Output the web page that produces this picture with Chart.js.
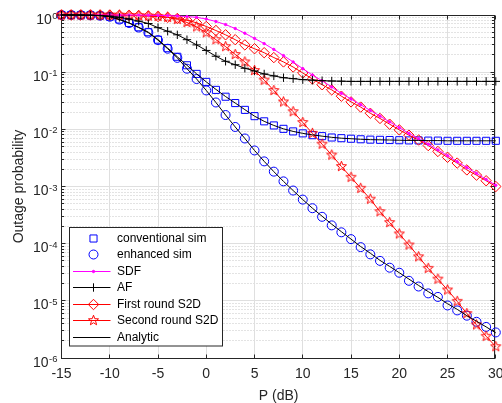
<!DOCTYPE html>
<html><head><meta charset="utf-8">
<script src="https://cdn.jsdelivr.net/npm/chart.js@4.4.1/dist/chart.umd.min.js"></script>
<style>html,body{margin:0;padding:0;background:#fff;}#wrap{width:502px;height:403px;}</style>
</head><body><div id="wrap"><canvas id="c" width="502" height="403"></canvas></div>
<script>
// ---------------- data ----------------
const P_dB = [-15,-14,-13,-12,-11,-10,-9,-8,-7,-6,-5,-4,-3,-2,-1,0,1,2,3,4,5,6,7,8,9,10,11,12,13,14,15,16,17,18,19,20,21,22,23,24,25,26,27,28,29,30];
const xTickVals = [-15,-10,-5,0,5,10,15,20,25,30];
const yTickExp = [-6,-5,-4,-3,-2,-1,0];

const conventionalSim = [1.0,1.0,0.995,0.99,0.975,0.935,0.835,0.727,0.61,0.50,0.37,0.263,0.186,0.132,0.0933,0.0676,
  0.049,0.0372,0.0288,0.0219,0.0170,0.0138,0.0117,0.0102,9.2e-3,8.5e-3,
  7.9e-3,7.6e-3,7.2e-3,7.0e-3,6.85e-3,6.7e-3,6.6e-3,6.55e-3,6.5e-3,6.45e-3,
  6.4e-3,6.4e-3,6.35e-3,6.35e-3,6.3e-3,6.3e-3,6.3e-3,6.3e-3,6.3e-3,6.3e-3];
const conventionalAnalytic = [1.0,1.0,0.996,0.99,0.975,0.935,0.836,0.727,0.61,0.50,0.372,0.264,0.186,0.132,0.0933,0.0676,
  0.050,0.0375,0.0288,0.0221,0.0170,0.0138,0.0117,0.0102,9.2e-3,8.5e-3,
  8.0e-3,7.6e-3,7.25e-3,7.0e-3,6.85e-3,6.7e-3,6.6e-3,6.55e-3,6.5e-3,6.45e-3,
  6.4e-3,6.4e-3,6.35e-3,6.35e-3,6.3e-3,6.3e-3,6.3e-3,6.3e-3,6.3e-3,6.3e-3];
const enhancedSim = [1.0,1.0,0.995,0.99,0.973,0.933,0.832,0.724,0.603,0.490,0.363,0.257,0.178,0.115,0.0759,0.0479,
  0.0295,0.0178,0.0110,6.92e-3,4.27e-3,2.75e-3,1.82e-3,1.23e-3,8.5e-4,5.9e-4,
  4.17e-4,2.95e-4,2.09e-4,1.58e-4,1.20e-4,8.7e-5,6.5e-5,5.0e-5,3.8e-5,3.1e-5,
  2.24e-5,1.78e-5,1.35e-5,1.17e-5,8.3e-6,6.8e-6,5.5e-6,4.3e-6,3.5e-6,2.8e-6];
const enhancedAnalytic = [1.0,1.0,0.996,0.99,0.974,0.933,0.832,0.724,0.603,0.490,0.363,0.257,0.178,0.115,0.0759,0.0479,
  0.0295,0.0178,0.0110,6.92e-3,4.27e-3,2.75e-3,1.82e-3,1.23e-3,8.5e-4,5.9e-4,
  4.17e-4,3.02e-4,2.19e-4,1.62e-4,1.20e-4,8.9e-5,6.8e-5,5.1e-5,4.0e-5,3.1e-5,
  2.4e-5,1.86e-5,1.45e-5,1.15e-5,8.9e-6,7.1e-6,5.5e-6,4.4e-6,3.5e-6,2.75e-6];
const sdf = [1.0,1.0,1.0,1.0,1.0,0.999,0.998,0.997,0.995,0.99,0.985,0.977,0.96,0.94,0.91,0.85,
  0.77,0.68,0.58,0.48,0.39,0.316,0.25,0.195,0.151,0.115,
  0.089,0.0708,0.055,0.0427,0.0339,0.0269,0.0214,0.0170,0.0135,0.0107,
  8.5e-3,6.84e-3,5.5e-3,4.37e-3,3.47e-3,2.72e-3,2.14e-3,1.70e-3,1.33e-3,1.05e-3];
const af = [1.0,1.0,0.998,0.99,0.98,0.955,0.91,0.85,0.78,0.71,0.60,0.52,0.45,0.37,0.30,0.24,
  0.19,0.155,0.135,0.117,0.105,0.093,0.086,0.080,0.077,0.074,
  0.0725,0.071,0.070,0.0695,0.069,0.069,0.069,0.069,0.069,0.069,
  0.069,0.069,0.069,0.069,0.069,0.069,0.069,0.069,0.069,0.069];
const firstRound = [1.0,1.0,1.0,1.0,0.998,0.996,0.99,0.985,0.975,0.96,0.94,0.91,0.87,0.81,0.73,0.63,
  0.535,0.45,0.37,0.30,0.257,0.219,0.18,0.151,0.123,0.097,
  0.0759,0.0603,0.049,0.038,0.0302,0.0245,0.0191,0.0155,0.0123,9.8e-3,
  7.9e-3,6.5e-3,5.2e-3,4.1e-3,3.24e-3,2.57e-3,1.95e-3,1.58e-3,1.26e-3,1.0e-3];
const secondRound = [1.0,1.0,1.0,1.0,0.999,0.997,0.993,0.985,0.975,0.96,0.945,0.91,0.84,0.74,0.62,0.49,
  0.37,0.28,0.204,0.151,0.107,0.0724,0.0479,0.0302,0.0204,0.0132,
  8.5e-3,5.5e-3,3.55e-3,2.24e-3,1.45e-3,9.3e-4,6.0e-4,3.63e-4,2.34e-4,1.48e-4,
  9.5e-5,5.9e-5,3.7e-5,2.4e-5,1.55e-5,9.8e-6,6.0e-6,3.8e-6,2.4e-6,1.58e-6];

// ---------------- styling helpers ----------------
const FONT = '"Liberation Sans", Arial, Helvetica, sans-serif';
const AXC = '#262626';
const BLUE = '#0000ff', RED = '#ff0000', MAG = '#ff00ff', BLACK = '#000000';

function makeStar(color, R) {
  const s = Math.ceil(R * 2 + 4);
  const c = document.createElement('canvas'); c.width = s; c.height = s;
  const g = c.getContext('2d'); g.strokeStyle = color; g.lineWidth = 1;
  g.beginPath();
  for (let k = 0; k < 10; k++) {
    const ang = -Math.PI / 2 + k * Math.PI / 5;
    const r = (k % 2) ? R * 0.42 : R;
    const px = s / 2 + r * Math.cos(ang), py = s / 2 + r * Math.sin(ang);
    if (k) g.lineTo(px, py); else g.moveTo(px, py);
  }
  g.closePath(); g.stroke();
  return c;
}
const starImg = makeStar(RED, 5.3);

const pts = arr => P_dB.map((x, i) => ({x: x, y: arr[i]}));

function ds(label, arr, o) {
  return Object.assign({
    label: label, data: pts(arr), clip: false, tension: 0,
    borderWidth: 1, pointBorderWidth: 1, pointBackgroundColor: 'rgba(0,0,0,0)',
    pointHoverRadius: 0
  }, o);
}

const datasets = [
  ds('conventional sim', conventionalSim, {showLine: false, borderColor: BLUE, pointBorderColor: BLUE, pointStyle: 'rect', pointRadius: 5, order: 6, legendLine: false}),
  ds('enhanced sim', enhancedSim, {showLine: false, borderColor: BLUE, pointBorderColor: BLUE, pointStyle: 'circle', pointRadius: 4.5, order: 5, legendLine: false}),
  ds('SDF', sdf, {borderColor: MAG, pointBorderColor: MAG, pointBackgroundColor: MAG, pointStyle: 'circle', pointRadius: 1.2, order: 2, legendLine: true}),
  ds('AF', af, {borderColor: BLACK, pointBorderColor: BLACK, pointStyle: 'cross', pointRadius: 4.2, order: 1, legendLine: true}),
  ds('First round S2D', firstRound, {borderColor: RED, pointBorderColor: RED, pointStyle: 'rectRot', pointRadius: 5.2, order: 3, legendLine: true}),
  ds('Second round S2D', secondRound, {borderColor: RED, pointBorderColor: RED, pointStyle: starImg, pointRadius: 5, order: 4, legendLine: true}),
  ds('Analytic', conventionalAnalytic, {borderColor: BLACK, pointRadius: 0, order: 0, legendLine: true}),
  ds('', enhancedAnalytic, {borderColor: BLACK, pointRadius: 0, order: 0, legendHide: true})
];

const snap = v => Math.floor(v) + 0.5;

function drawMarker(ctx, d, x, y) {
  const st = d.pointStyle, r = d.pointRadius;
  ctx.save();
  ctx.strokeStyle = d.pointBorderColor || d.borderColor; ctx.lineWidth = 1;
  if (st instanceof HTMLCanvasElement) {
    ctx.drawImage(st, x - st.width / 2, y - st.height / 2);
  } else {
    ctx.beginPath();
    if (st === 'rect') { const h = Math.SQRT1_2 * r; ctx.rect(x - h, y - h, 2 * h, 2 * h); ctx.stroke(); }
    else if (st === 'circle') { ctx.arc(x, y, r, 0, Math.PI * 2); if (d.pointBackgroundColor && d.pointBackgroundColor !== 'rgba(0,0,0,0)') { ctx.fillStyle = d.pointBackgroundColor; ctx.fill(); } ctx.stroke(); }
    else if (st === 'rectRot') { ctx.moveTo(x - r, y); ctx.lineTo(x, y - r); ctx.lineTo(x + r, y); ctx.lineTo(x, y + r); ctx.closePath(); ctx.stroke(); }
    else if (st === 'cross') { ctx.moveTo(x, y - r); ctx.lineTo(x, y + r); ctx.moveTo(x - r, y); ctx.lineTo(x + r, y); ctx.stroke(); }
  }
  ctx.restore();
}

const matlabAxes = {
  id: 'matlabAxes',
  beforeDatasetsDraw(chart) {
    const ctx = chart.ctx, a = chart.chartArea, xs = chart.scales.x, ys = chart.scales.y;
    const L = snap(a.left), R = snap(a.right - 1), T = snap(a.top), B = snap(a.bottom);
    ctx.save();
    ctx.lineWidth = 1;
    // minor y grid (dotted)
    ctx.strokeStyle = '#c6c6c6'; ctx.setLineDash([1, 2]);
    ctx.beginPath();
    for (const e of yTickExp) {
      if (e === 0) continue;
      for (let m = 2; m <= 9; m++) {
        const y = snap(ys.getPixelForValue(m * Math.pow(10, e)));
        ctx.moveTo(L, y); ctx.lineTo(R, y);
      }
    }
    ctx.stroke();
    // major grid
    ctx.setLineDash([]); ctx.strokeStyle = '#dfdfdf';
    ctx.beginPath();
    for (const v of xTickVals) { const x = snap(xs.getPixelForValue(v)); ctx.moveTo(x, T); ctx.lineTo(x, B); }
    for (const e of yTickExp) { const y = snap(ys.getPixelForValue(Math.pow(10, e))); ctx.moveTo(L, y); ctx.lineTo(R, y); }
    ctx.stroke();
    // box
    ctx.strokeStyle = AXC;
    ctx.strokeRect(L, T, R - L, B - T);
    // ticks (inward)
    ctx.beginPath();
    for (const v of xTickVals) {
      const x = snap(xs.getPixelForValue(v));
      ctx.moveTo(x, B); ctx.lineTo(x, B - 4);
      ctx.moveTo(x, T); ctx.lineTo(x, T + 4);
    }
    for (const e of yTickExp) {
      const y = snap(ys.getPixelForValue(Math.pow(10, e)));
      ctx.moveTo(L, y); ctx.lineTo(L + 4, y);
      ctx.moveTo(R, y); ctx.lineTo(R - 4, y);
      if (e === 0) continue;
      for (let m = 2; m <= 9; m++) {
        const ym = snap(ys.getPixelForValue(m * Math.pow(10, e)));
        ctx.moveTo(L, ym); ctx.lineTo(L + 2.5, ym);
        ctx.moveTo(R, ym); ctx.lineTo(R - 2.5, ym);
      }
    }
    ctx.stroke();
    // y tick labels 10^e
    ctx.fillStyle = AXC; ctx.textBaseline = 'alphabetic'; ctx.textAlign = 'left';
    for (const e of yTickExp) {
      const y = ys.getPixelForValue(Math.pow(10, e));
      const es = String(e);
      ctx.font = '9.5px ' + FONT; const ew = ctx.measureText(es).width;
      ctx.font = '14px ' + FONT; const bw = ctx.measureText('10').width;
      const right = a.left - 4;
      ctx.fillText('10', right - ew - bw - 0.5, y + 8.5);
      ctx.font = '9.5px ' + FONT; ctx.fillText(es, right - ew, y + 4);
    }
    ctx.restore();
  },
  afterDatasetsDraw(chart) {
    const ctx = chart.ctx;
    const bx = 69.5, by = 227.5, bw = 153, bh = 118.5;
    ctx.save();
    ctx.fillStyle = '#ffffff'; ctx.fillRect(bx, by, bw, bh);
    ctx.strokeStyle = AXC; ctx.lineWidth = 1; ctx.strokeRect(bx, by, bw, bh);
    const items = chart.data.datasets.filter(d => !d.legendHide);
    ctx.font = '12px ' + FONT; ctx.textBaseline = 'middle'; ctx.textAlign = 'left';
    items.forEach((d, i) => {
      const y = Math.round(237.7 + i * 16.5) + 0.5;
      if (d.legendLine) {
        ctx.strokeStyle = d.borderColor; ctx.lineWidth = 1;
        ctx.beginPath(); ctx.moveTo(73, y); ctx.lineTo(110.5, y); ctx.stroke();
      }
      if (d.pointRadius > 0) drawMarker(ctx, d, 93.5, y);
      ctx.fillStyle = '#000000';
      ctx.fillText(d.label, 117, y + 0.5);
    });
    ctx.restore();
  }
};

new Chart(document.getElementById('c'), {
  type: 'line',
  data: {datasets: datasets},
  options: {
    responsive: false, animation: false, devicePixelRatio: 1,
    layout: {padding: {top: 15, right: 6, left: 0, bottom: 0}},
    plugins: {legend: {display: false}, tooltip: {enabled: false}},
    scales: {
      x: {
        type: 'linear', min: -15, max: 30,
        grid: {display: false, drawTicks: false, tickLength: 0}, border: {display: false},
        ticks: {stepSize: 5, color: AXC, font: {family: FONT, size: 14}, padding: 7.5, maxRotation: 0, autoSkip: false},
        title: {display: true, text: 'P (dB)', color: AXC, font: {family: FONT, size: 14}, padding: {top: 0, bottom: -2}},
        afterFit: s => { s.height = 45; s.paddingLeft = 0; s.paddingRight = 0; }
      },
      y: {
        type: 'logarithmic', min: 1e-6, max: 1,
        grid: {display: false, drawTicks: false, tickLength: 0}, border: {display: false},
        ticks: {display: false},
        title: {display: true, text: 'Outage probability', color: AXC, font: {family: FONT, size: 14}, padding: {top: 11, bottom: 0}},
        afterFit: s => { s.width = 61.5; s.paddingTop = 0; s.paddingBottom = 0; }
      }
    }
  },
  plugins: [matlabAxes]
});
</script>
</body></html>
